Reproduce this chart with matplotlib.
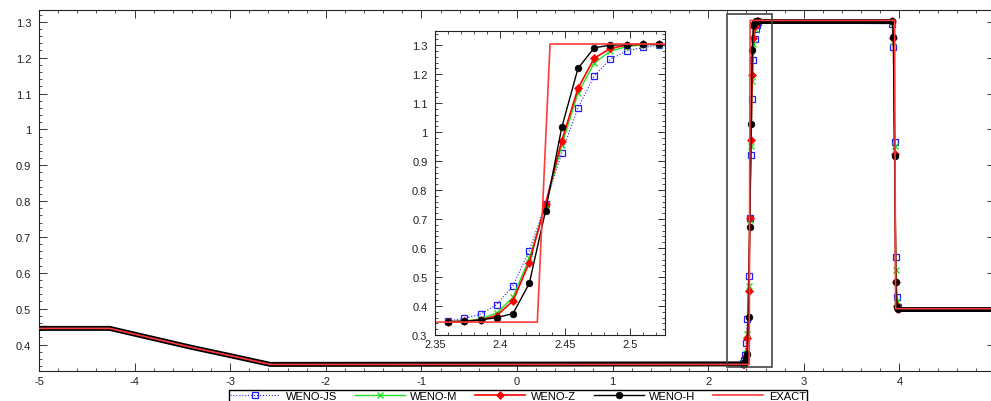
import numpy as np
import matplotlib
matplotlib.use('Agg')
from matplotlib import pyplot as plt
from matplotlib.ticker import MultipleLocator, FixedLocator, FormatStrFormatter
from matplotlib.lines import Line2D
from matplotlib.patches import Rectangle

plt.rcParams['font.family'] = ['Liberation Sans', 'DejaVu Sans']
plt.rcParams['axes.unicode_minus'] = False

# left state + rarefaction
x_left = [-5.0, -4.26, -3.84, -3.42, -3.0, -2.58]
rho_left = [0.445, 0.445, 0.419, 0.393, 0.369, 0.3445]

# contact region (same points as in the inset)
x_con = [2.36, 2.3725, 2.385, 2.3975, 2.41, 2.4225, 2.435,
         2.4475, 2.46, 2.4725, 2.485, 2.4975, 2.51, 2.5225]
js_con = [0.349, 0.357, 0.372, 0.405, 0.470, 0.591, 0.752,
          0.928, 1.084, 1.194, 1.252, 1.280, 1.292, 1.300]
m_con = [0.346, 0.348, 0.355, 0.376, 0.430, 0.564, 0.748,
         0.955, 1.134, 1.238, 1.280, 1.295, 1.301, 1.302]
z_con = [0.346, 0.347, 0.352, 0.367, 0.418, 0.550, 0.752,
         0.970, 1.151, 1.255, 1.289, 1.300, 1.303, 1.303]
h_con = [0.346, 0.347, 0.352, 0.360, 0.374, 0.478, 0.728,
         1.016, 1.220, 1.291, 1.300, 1.302, 1.303, 1.303]

# shock region
x_sh = [3.925, 3.9375, 3.95, 3.9625, 3.975, 3.9875]
js_sh = [1.294, 1.229, 0.965, 0.643, 0.532, 0.505]
m_sh = [1.300, 1.243, 0.953, 0.608, 0.520, 0.502]
z_sh = [1.303, 1.255, 0.930, 0.574, 0.508, 0.500]
h_sh = [1.303, 1.259, 0.926, 0.574, 0.506, 0.500]

# right state
x_right = [4.0, 5.0]
rho_right = [0.5, 0.5]

# exact solution
x_ex = [-5.0, -4.26, -3.84, -3.42, -3.0, -2.58, 2.4287, 2.4385, 3.95, 3.96, 5.0]
rho_ex = [0.445, 0.445, 0.419, 0.393, 0.369, 0.3445, 0.3445, 1.304, 1.304, 0.5, 0.5]

methods = ['WENO-JS', 'WENO-M', 'WENO-Z', 'WENO-H']
con_vals = [js_con, m_con, z_con, h_con]
sh_vals = [js_sh, m_sh, z_sh, h_sh]
styles = [dict(color='#1f1fff', ls=':', lw=0.8, marker='s', ms=4.2, mfc='none', mew=0.9),
          dict(color='#22e022', ls='-', lw=1.0, marker='x', ms=4.5, mew=1.0),
          dict(color='#ff0000', ls='-', lw=1.2, marker='D', ms=3.8, mew=0.5),
          dict(color='black', ls='-', lw=1.0, marker='o', ms=4.8, mew=0.5)]
ex_style = dict(color='#ff3b3b', lw=1.2, ls='-')

fig = plt.figure(figsize=(9.91, 4.02), dpi=100)
ax = fig.add_axes([0.03935, 0.0754, 0.9647, 0.8973])

n_left = len(x_left)
for name, cv, sv, st in zip(methods, con_vals, sh_vals, styles):
    xs = x_left + x_con + x_sh + x_right
    ys = rho_left + cv + sv + rho_right
    idx = list(range(n_left, n_left + len(x_con) + len(x_sh)))
    ax.plot(xs, ys, markevery=idx, **st)

# dense WENO-H markers appear as a thick black band on the smooth parts
ax.plot(x_left + [x_con[0]], rho_left + [h_con[0]], color='black', lw=3.6,
        solid_capstyle='butt', zorder=3)
ax.plot([x_con[-1], x_sh[0]], [h_con[-1], h_sh[0]], color='black', lw=3.6, zorder=3)
ax.plot([x_sh[-1]] + x_right, [h_sh[-1]] + rho_right, color='black', lw=3.6, zorder=3)
ax.plot(x_ex, rho_ex, zorder=4, **ex_style)

ax.add_patch(Rectangle((2.2, 0.337), 0.47, 0.984, fill=False, ec='#444444', lw=1.2, zorder=5))

ax.set_xlim(-5, 5)
ax.set_ylim(0.327, 1.333)
ax.xaxis.set_major_locator(FixedLocator([-5, -4, -3, -2, -1, 0, 1, 2, 3, 4]))
ax.xaxis.set_minor_locator(MultipleLocator(0.2))
ax.yaxis.set_major_locator(MultipleLocator(0.1))
ax.yaxis.set_minor_locator(MultipleLocator(0.02))
ax.yaxis.set_major_formatter(FormatStrFormatter('%g'))
ax.xaxis.set_major_formatter(FormatStrFormatter('%g'))
ax.tick_params(which='both', direction='in', top=True, right=True, labelsize=8,
               colors='#333333', labelcolor='#222222')
ax.tick_params(which='major', length=5.5, width=0.7)
ax.tick_params(which='minor', length=2.5, width=0.6)
ax.tick_params(axis='y', pad=5.5)
ax.tick_params(axis='x', pad=4)
for s in ax.spines.values():
    s.set_linewidth(0.8)
    s.set_color('#222222')

# inset
ins = fig.add_axes([0.439, 0.1642, 0.2321, 0.757])
for name, cv, st in zip(methods, con_vals, styles):
    ins.plot(x_con, cv, **st)
ins.plot(x_ex, rho_ex, **ex_style)
ins.set_xlim(2.35, 2.527)
ins.set_ylim(0.3, 1.35)
ins.xaxis.set_major_locator(MultipleLocator(0.05))
ins.xaxis.set_minor_locator(MultipleLocator(0.01))
ins.yaxis.set_major_locator(MultipleLocator(0.1))
ins.yaxis.set_minor_locator(MultipleLocator(0.02))
ins.yaxis.set_major_formatter(FormatStrFormatter('%g'))
ins.xaxis.set_major_formatter(FormatStrFormatter('%g'))
ins.tick_params(which='both', direction='in', top=True, right=True, labelsize=8,
                colors='#333333', labelcolor='#222222')
ins.tick_params(which='major', length=5, width=0.7)
ins.tick_params(which='minor', length=2.5, width=0.6)
ins.tick_params(axis='y', pad=5.5)
ins.tick_params(axis='x', pad=3)
for s in ins.spines.values():
    s.set_linewidth(0.8)
    s.set_color('#222222')

handles = [Line2D([], [], **st) for st in styles] + [Line2D([], [], **ex_style)]
fig.legend(handles, methods + ['EXACT'], loc='upper center', bbox_to_anchor=(0.5227, 0.0286),
           ncol=5, fontsize=8, frameon=True, fancybox=False, edgecolor='black',
           framealpha=1, handlelength=4.5, handletextpad=0.5, columnspacing=1.6,
           borderpad=0.1, borderaxespad=0)

fig.savefig('out.png', dpi=100)
